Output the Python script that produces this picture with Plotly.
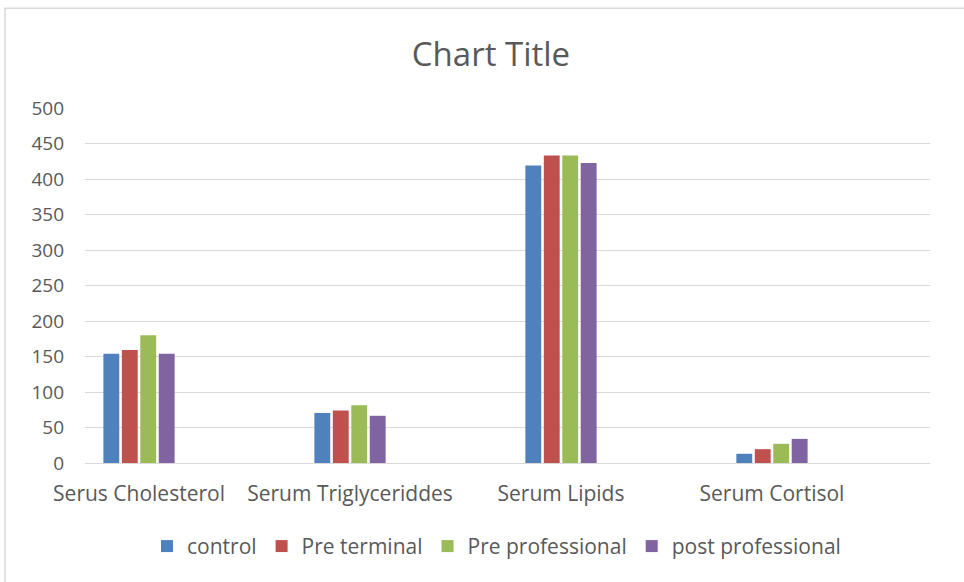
import plotly.graph_objects as go

# Category labels and the four measured groups
categories = ["Serus Cholesterol", "Serum Triglyceriddes", "Serum Lipids", "Serum Cortisol"]
control = [154, 70.5, 419, 13]
pre_terminal = [159, 74, 433, 19.5]
pre_professional = [180, 81.5, 433, 27]
post_professional = [154, 66.5, 422.5, 34]

series = [
    ("control", control, "#4F81BD"),
    ("Pre terminal", pre_terminal, "#C0504D"),
    ("Pre professional", pre_professional, "#9BBB59"),
    ("post professional", post_professional, "#8064A2"),
]

positions = list(range(len(categories)))
font_family = "'Open Sans', 'Noto Sans', sans-serif"
text_color = "#595959"

fig = go.Figure()
for name, values, color in series:
    fig.add_trace(go.Bar(
        x=positions,
        y=values,
        name=name,
        marker=dict(color=color, line=dict(width=0)),
    ))

fig.update_layout(
    width=964,
    height=582,
    margin=dict(l=85, r=34, t=108, b=118.5),
    paper_bgcolor="white",
    plot_bgcolor="white",
    barmode="group",
    bargap=0.65,
    bargroupgap=0.14,
    title=dict(
        text="Chart Title",
        x=491 / 964,
        xanchor="center",
        y=1 - 54 / 582,
        yanchor="middle",
        font=dict(family=font_family, size=33, color=text_color),
    ),
    font=dict(family=font_family, size=19, color=text_color),
    xaxis=dict(
        range=[-0.256, 3.749],
        tickvals=positions,
        ticktext=categories,
        showgrid=False,
        zeroline=False,
        showline=False,
        ticks="",
        ticklabelstandoff=16,
        tickfont=dict(size=21, color=text_color),
        fixedrange=True,
    ),
    yaxis=dict(
        range=[0, 500],
        tick0=0,
        dtick=50,
        showgrid=True,
        gridcolor="#D9D9D9",
        gridwidth=1,
        zeroline=True,
        zerolinecolor="#D9D9D9",
        zerolinewidth=1,
        showline=False,
        ticks="",
        ticklabelstandoff=20,
        tickfont=dict(size=19, color=text_color),
        fixedrange=True,
    ),
    legend=dict(
        orientation="h",
        x=0.487,
        xanchor="center",
        y=-0.235,
        yanchor="middle",
        font=dict(size=21, color=text_color),
        itemsizing="constant",
        traceorder="normal",
    ),
    showlegend=True,
    shapes=[
        # chart frame: only its top and left edges fall inside the page
        dict(
            type="rect",
            xref="paper",
            yref="paper",
            x0=(5 - 85) / 845,
            x1=(1100 - 85) / 845,
            y0=(463.5 - 700) / 355.5,
            y1=(463.5 - 8) / 355.5,
            line=dict(color="#D9D9D9", width=1.5),
            fillcolor="rgba(0,0,0,0)",
            layer="below",
        )
    ],
)

fig.write_html("out.html")
